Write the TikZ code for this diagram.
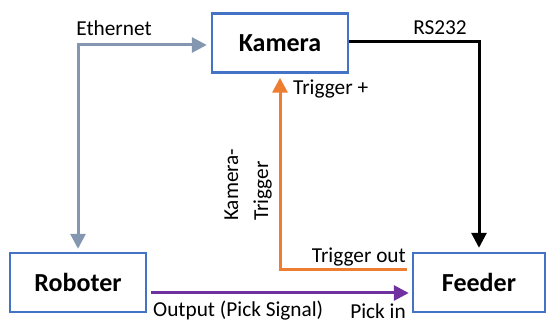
\documentclass[tikz,border=0pt]{standalone}
\usepackage{fontspec}
\setmainfont{Carlito}
\usetikzlibrary{arrows.meta}
\definecolor{boxblue}{HTML}{4472C4}
\definecolor{ethgray}{HTML}{8497B0}
\definecolor{trigorange}{HTML}{ED7D31}
\definecolor{pickpurple}{HTML}{7030A0}
\tikzset{
  unit/.style={draw=boxblue, line width=2.4pt, minimum width=136pt, minimum height=59pt,
    font=\fontsize{26}{30}\selectfont\bfseries, inner sep=0pt},
  lbl/.style={font=\fontsize{21.3}{26}\selectfont, inner sep=0pt},
  link/.style={line width=3pt, -{Triangle[width=15pt,length=15pt]}},
}
\begin{document}
\begin{tikzpicture}[x=1pt,y=-1pt]
  \useasboundingbox (0,0) rectangle (547,323);
  % devices
  \node[unit] (kam)  at (280,43)  {Kamera};
  \node[unit] (rob)  at (78,282.5) {Roboter};
  \node[unit, minimum width=132pt] (feed) at (479,282.5) {Feeder};
  % Ethernet between robot and camera
  \draw[link, ethgray, {Triangle[width=15pt,length=15pt]}-{Triangle[width=15pt,length=15pt]},
        shorten <=4pt, shorten >=3pt]
    ([yshift=-2pt]kam.west) -| (rob.north);
  % serial link camera -> feeder
  \draw[link, black, shorten >=4pt] ([yshift=1pt]kam.east) -| (feed.north);
  % trigger feeder -> camera
  \draw[link, trigorange, shorten <=5pt, shorten >=4pt] ([yshift=12.5pt]feed.west) -| (kam.south);
  % pick signal robot -> feeder
  \draw[link, pickpurple, shorten <=4pt, shorten >=3pt]
    ([yshift=-10.5pt]rob.east) -- ([yshift=-10.5pt]feed.west);
  % labels
  \node[lbl] (leth) at (114,28) {Ethernet};
  \node[lbl] (lrs) at (440,28) {RS232};
  \node[lbl, anchor=west] (ltp) at (293,89) {Trigger +};
  \node[lbl, anchor=east] (lto) at (406,257) {Trigger out};
  \node[lbl, anchor=west] (lout) at (153,311) {Output (Pick Signal)};
  \node[lbl, anchor=east] (lpin) at (406,311) {Pick in};
  \node[lbl, rotate=90, anchor=west, align=left, font=\fontsize{21.3}{30}\selectfont] (lkt)
    at (248,221) {Kamera-\\Trigger};
\end{tikzpicture}
\end{document}
